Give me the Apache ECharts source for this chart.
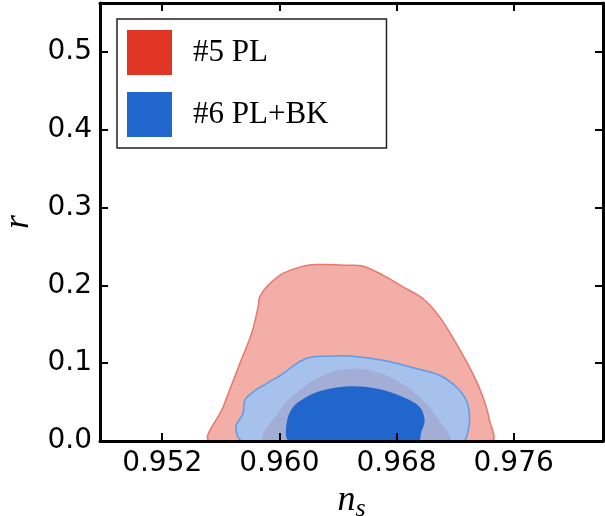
<!DOCTYPE html>
<html>
<head>
<meta charset="utf-8">
<script src="https://cdn.jsdelivr.net/npm/echarts@6/dist/echarts.min.js"></script>
<style>
  html, body { margin: 0; padding: 0; background: #fff; }
  #main { width: 605px; height: 516px; }
</style>
</head>
<body>
<div id="main"></div>
<script>
const chart = echarts.init(document.getElementById('main'));

// contour outlines, [n_s, r]
const pl95 = [
  [0.95530, 0], [0.95616, 0.0437], [0.95730, 0.0995], [0.95810, 0.1380],
  [0.95855, 0.1722], [0.95866, 0.1851], [0.95912, 0.1979], [0.96025, 0.2152],
  [0.96162, 0.2245], [0.96253, 0.2267], [0.96458, 0.2258], [0.96571, 0.2245],
  [0.96707, 0.2130], [0.96844, 0.1979], [0.96980, 0.1830], [0.97094, 0.1594],
  [0.97208, 0.1252], [0.97321, 0.0866], [0.97390, 0.0566], [0.97435, 0.0266],
  [0.97447, 0]
];
const pl68 = [
  [0.95900, 0], [0.96003, 0.0395], [0.96139, 0.0652], [0.96298, 0.0844],
  [0.96458, 0.0922], [0.96617, 0.0909], [0.96799, 0.0780], [0.96958, 0.0566],
  [0.97072, 0.0308], [0.97156, 0]
];
const bk95 = [
  [0.95752, 0], [0.95703, 0.0180], [0.95752, 0.0352], [0.95764, 0.0523],
  [0.95821, 0.0630], [0.95912, 0.0738], [0.96025, 0.0866], [0.96117, 0.0995],
  [0.96207, 0.1072], [0.96344, 0.1089], [0.96480, 0.1093], [0.96707, 0.1037],
  [0.96935, 0.0931], [0.97094, 0.0844], [0.97208, 0.0694], [0.97276, 0.0523],
  [0.97299, 0.0308], [0.97287, 0.0116], [0.97253, 0]
];
const bk68 = [
  [0.96071, 0], [0.96049, 0.0224], [0.96094, 0.0437], [0.96185, 0.0566],
  [0.96298, 0.0652], [0.96480, 0.0703], [0.96662, 0.0673], [0.96844, 0.0566],
  [0.96958, 0.0437], [0.96992, 0.0266], [0.96969, 0.0116], [0.96946, 0]
];

const xTicks = [0.952, 0.960, 0.968, 0.976];
const yTicks = [0.0, 0.1, 0.2, 0.3, 0.4, 0.5];
const legendNames = ['#5 PL', '#6 PL+BK'];

const xMin = 0.94775, xMax = 0.9821;
const yMin = 0, yMax = 0.5626;

function contour(name, pts, fill, stroke, z) {
  return {
    type: 'custom',
    name: name,
    z: z,
    clip: true,
    data: pts,
    encode: { x: 0, y: 1 },
    renderItem: function (params, api) {
      if (params.dataIndex !== 0) return;
      const points = pts.map(p => api.coord(p));
      return {
        type: 'polygon',
        shape: { points: points, smooth: 0.35 },
        style: { fill: fill, stroke: stroke || null, lineWidth: stroke ? 1.5 : 0 }
      };
    }
  };
}

const frame = { show: true, onZero: false, lineStyle: { color: '#000', width: 3 } };
const tickStyle = { inside: true, length: 8, lineStyle: { color: '#000', width: 2 } };

chart.setOption({
  animation: false,
  grid: { left: 100, right: 2, top: 3, bottom: 75, containLabel: false, outerBoundsMode: 'none' },
  legend: {
    left: 117,
    top: 19,
    orient: 'vertical',
    padding: [11, 58, 11, 10],
    itemWidth: 45,
    itemHeight: 45,
    itemGap: 17,
    backgroundColor: '#fff',
    borderColor: '#222',
    borderWidth: 1.5,
    borderRadius: 0,
    textStyle: {
      fontFamily: 'Liberation Serif',
      fontSize: 31,
      color: '#000',
      padding: [0, 0, 0, 16]
    },
    data: [
      { name: legendNames[0], icon: 'rect', itemStyle: { color: '#e03424', borderWidth: 0 } },
      { name: legendNames[1], icon: 'rect', itemStyle: { color: '#2166cc', borderWidth: 0 } }
    ]
  },
  xAxis: [
    {
      type: 'value', min: xMin, max: xMax, z: 10,
      axisLine: frame,
      splitLine: { show: false },
      axisTick: Object.assign({ customValues: xTicks }, tickStyle),
      axisLabel: {
        customValues: xTicks,
        formatter: v => v.toFixed(3),
        fontFamily: 'DejaVu Sans', fontSize: 28, color: '#000', margin: 9
      },
      name: '{n|n}{s|s}',
      nameLocation: 'middle',
      nameGap: 28,
      nameTextStyle: {
        rich: {
          n: { fontFamily: 'Liberation Serif', fontStyle: 'italic', fontSize: 36, color: '#000' },
          s: { fontFamily: 'Liberation Serif', fontStyle: 'italic', fontSize: 26, color: '#000', padding: [16, 0, 0, 0] }
        }
      }
    },
    {
      type: 'value', min: xMin, max: xMax, position: 'top', z: 10,
      axisLine: frame,
      splitLine: { show: false },
      axisTick: Object.assign({ customValues: xTicks }, tickStyle),
      axisLabel: { show: false }
    }
  ],
  yAxis: [
    {
      type: 'value', min: yMin, max: yMax, z: 10,
      axisLine: frame,
      splitLine: { show: false },
      axisTick: Object.assign({ customValues: yTicks }, tickStyle),
      axisLabel: {
        customValues: yTicks,
        formatter: v => v.toFixed(1),
        fontFamily: 'DejaVu Sans', fontSize: 28, color: '#000', margin: 8
      },
      name: 'r',
      nameLocation: 'middle',
      nameGap: 63,
      nameRotate: 90,
      nameTextStyle: { fontFamily: 'Liberation Serif', fontStyle: 'italic', fontSize: 36, color: '#000' }
    },
    {
      type: 'value', min: yMin, max: yMax, position: 'right', z: 10,
      axisLine: frame,
      splitLine: { show: false },
      axisTick: Object.assign({ customValues: yTicks }, tickStyle),
      axisLabel: { show: false }
    }
  ],
  series: [
    contour(legendNames[0], pl95, '#f2aea7', '#e8776d', 2),
    contour(legendNames[1], bk95, '#a6c1eb', '#5a9de8', 3),
    contour('pl68', pl68, '#a3aed7', null, 4),
    contour('bk68', bk68, '#2166cc', null, 5)
  ]
});
</script>
</body>
</html>
